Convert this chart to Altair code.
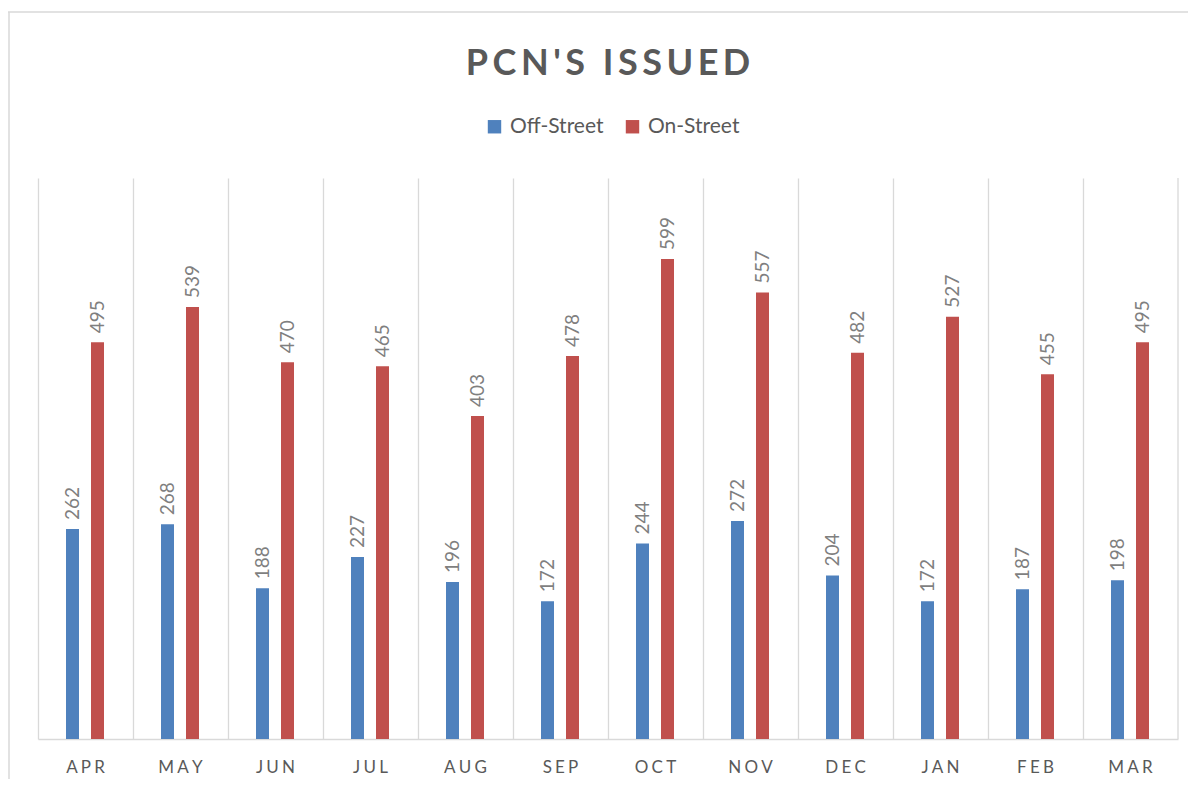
import altair as alt
import pandas as pd

months = ["APR", "MAY", "JUN", "JUL", "AUG", "SEP", "OCT", "NOV", "DEC", "JAN", "FEB", "MAR"]
off_street = [262, 268, 188, 227, 196, 172, 244, 272, 204, 172, 187, 198]
on_street = [495, 539, 470, 465, 403, 478, 599, 557, 482, 527, 455, 495]
series = ["Off-Street", "On-Street"]
colors = ["#4F81BD", "#C0504D"]

rows = []
for m, a, b in zip(months, off_street, on_street):
    rows.append({"month": m, "series": series[0], "value": a})
    rows.append({"month": m, "series": series[1], "value": b})
df = pd.DataFrame(rows)

W, H = 1140, 561
FONT = "Lato"

x = alt.X("month:N", sort=months, title=None,
          scale=alt.Scale(paddingInner=0, paddingOuter=0),
          axis=alt.Axis(bandPosition=0, grid=True, gridColor="#d9d9d9", gridWidth=1.3,
                        ticks=False, domainColor="#d9d9d9", domainWidth=1.3,
                        labelAngle=0, labelFontSize=17, labelColor="#595959",
                        labelFont=FONT, labelPadding=20,
                        labelExpr="join(split(datum.label, ''), '\u2009\u200a')"))
xo = alt.XOffset("series:N", sort=series,
                 scale=alt.Scale(range=[28, 66], paddingInner=0.48, paddingOuter=0))
y = alt.Y("value:Q", scale=alt.Scale(domain=[0, 700], nice=False), axis=None)

base = alt.Chart(df)
bars = base.mark_bar().encode(
    x=x, xOffset=xo, y=y,
    color=alt.Color("series:N", sort=series,
                    scale=alt.Scale(domain=series, range=colors),
                    legend=alt.Legend(title=None, orient="none", direction="horizontal",
                                      legendX=446, legendY=-62,
                                      symbolType="square", symbolSize=180,
                                      symbolStrokeWidth=0,
                                      labelFontSize=21, labelColor="#595959",
                                      labelFont=FONT, columnPadding=18,
                                      labelOffset=5)),
)
labels = base.mark_text(angle=270, align="left", baseline="middle", dx=9,
                        fontSize=19, color="#7f7f7f", font=FONT).encode(
    x=x, xOffset=xo, y=y, text=alt.Text("value:Q")
)
one = pd.DataFrame({"v": [0]})
right_edge = alt.Chart(one).mark_rule(color="#d9d9d9", strokeWidth=1.3).encode(
    x=alt.value(W), y=alt.value(0), y2=alt.value(H))
frame_top = alt.Chart(one).mark_rule(color="#d9d9d9", strokeWidth=1.5).encode(
    x=alt.value(-30), x2=alt.value(W + 10), y=alt.value(-166))
frame_left = alt.Chart(one).mark_rule(color="#d9d9d9", strokeWidth=1.5).encode(
    x=alt.value(-29), y=alt.value(-166), y2=alt.value(H + 40))

chart = alt.layer(bars, labels, right_edge, frame_top, frame_left).properties(
    width=W, height=H,
    title=alt.Title("\u2009".join("PCN'S ISSUED"), anchor="middle", fontSize=36,
                    font=FONT, fontWeight="bold", color="#595959", offset=-72),
    autosize=alt.AutoSizeParams(type="none"),
    padding={"left": 30, "top": 170, "right": 10, "bottom": 40},
).configure_view(stroke=None)

chart.save("out.html", embed_options={"renderer": "svg", "actions": False})
